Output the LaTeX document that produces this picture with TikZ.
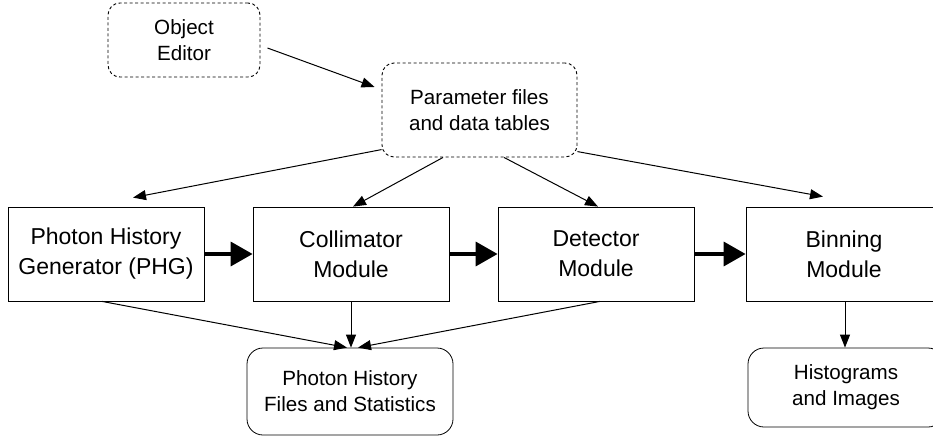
\documentclass[tikz,border=0pt]{standalone}
\usepackage{fontspec}
\setmainfont{Liberation Sans}
\usetikzlibrary{arrows.meta,calc,positioning}

\begin{document}
\begin{tikzpicture}
		[x=1pt,y=-1pt,
		module/.style={draw,line width=0.8pt,align=center,minimum width=196pt,minimum height=94pt,font=\fontsize{23}{30}\selectfont},
		input/.style={draw,dashed,dash pattern=on 3pt off 2.5pt,line width=0.9pt,rounded corners=12pt,align=center,font=\fontsize{20.6}{26}\selectfont},
		output/.style={draw,line width=0.8pt,rounded corners=16pt,align=center,font=\fontsize{20.6}{26}\selectfont},
		link/.style={line width=1pt,-{Triangle[length=13pt,width=10pt]}},
		flow/.style={line width=3.5pt,-{Triangle[length=22pt,width=24pt]}}]
		\useasboundingbox (0,0) rectangle (933,436);
		\clip (0,0) rectangle (933,436);
		
		\node[input,minimum width=152pt,minimum height=74pt] (obj) at (184,40) {Object\\Editor};
		\node[input,minimum width=195pt,minimum height=94pt] (param) at (479.5,110) {Parameter files\\and data tables};
		
		\node[module] (phg) at (106,254) {Photon History\\Generator (PHG)};
		\node[module] (col) at (351,254) {Collimator\\Module};
		\node[module] (det) at (596,254) {Detector\\Module};
		\node[module] (bin) at (844,254) {Binning\\Module};
		
		\node[output,minimum width=206pt,minimum height=87pt] (phf) at (350,391.5) {Photon History\\Files and Statistics};
		\node[output,minimum width=196pt,minimum height=79pt] (hist) at (846,387.5) {Histograms\\and Images};
		
		\draw[link] ($(obj.east)+(7,8)$) to ($(param.west)+(-7,-23)$);
		
		\draw[link] (param.202) to ($(phg.north)+(27,-9)$);
		\draw[link] ($(param.south)+(-36.5,0)$) to ($(col.north)+(2,0)$);
		\draw[link] ($(param.south)+(24.5,0)$) to ($(det.north)+(2,0)$);
		\draw[link] (param.337) to ($(bin.north)+(-21,-10)$);
		
		\draw[flow] (phg) to (col);
		\draw[flow] (col) to (det);
		\draw[flow] (det) to (bin);
		
		\draw[link] ($(phg.south)+(-4,0)$) to ($(phf.north)+(-3,0)$);
		\draw[link] (col.south) to (col.south |- phf.north);
		\draw[link] ($(det.south)+(4,0)$) to ($(phf.north)+(8,0)$);
		\draw[link] ($(bin.south)+(1,0)$) to ($(bin.south |- hist.north)+(1,0)$);
\end{tikzpicture}
\end{document}
